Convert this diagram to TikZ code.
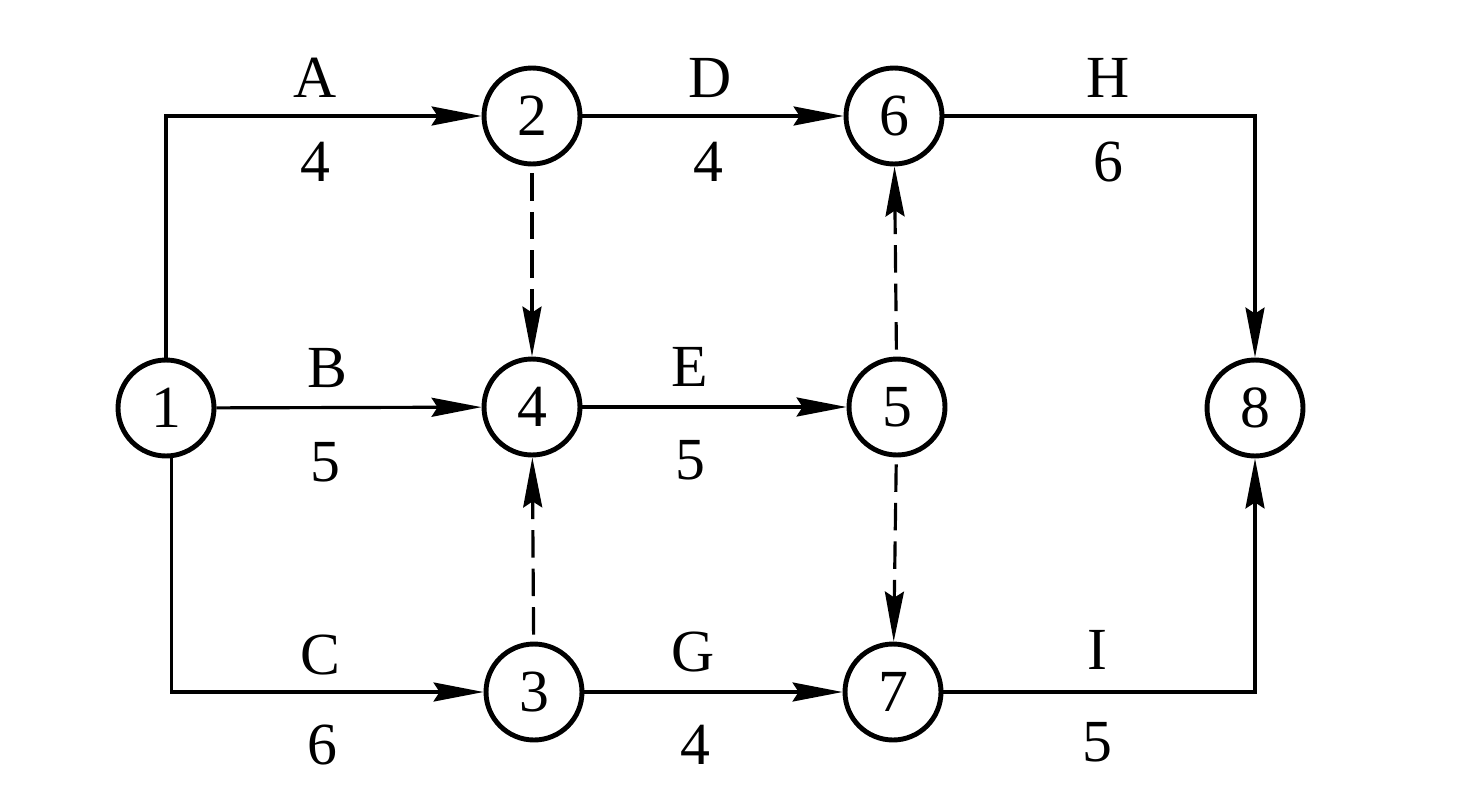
\documentclass[tikz,border=0pt]{standalone}
\usepackage{fontspec}
\setmainfont{Liberation Serif}
\usetikzlibrary{arrows.meta}
\begin{document}
\begin{tikzpicture}[x=0.02cm,y=-0.02cm,
  ev/.style={circle,draw,line width=2.8pt,minimum size=1.92cm,inner sep=0pt,font=\fontsize{34}{34}\selectfont},
  lab/.style={inner sep=0pt,font=\fontsize{34}{34}\selectfont},
  act/.style={line width=1.8pt,-{Stealth[length=1cm,width=0.38cm,inset=0.12cm]}},
  dummy/.style={act,dash pattern=on 0.55cm off 0.22cm,shorten <=4pt}]
\useasboundingbox (0,0) rectangle (1473,801);
\node[ev] (n1) at (166,408) {1};
\node[ev] (n2) at (532,116) {2};
\node[ev] (n6) at (894,116) {6};
\node[ev] (n4) at (532,407) {4};
\node[ev] (n5) at (897,407) {5};
\node[ev] (n8) at (1255,408) {8};
\node[ev] (n3) at (534,692) {3};
\node[ev] (n7) at (893,692) {7};
\draw[act] (n1.north) |- (n2);
\draw[act] (n1) -- (n4);
\draw[act] ([xshift=3pt]n1.south) |- (n3);
\draw[act] (n2) -- (n6);
\draw[act] (n4) -- (n5);
\draw[act] (n3) -- (n7);
\draw[act] (n6) -| (n8);
\draw[act] (n7) -| (n8);
\draw[dummy] (n2) -- (n4);
\draw[dummy] (n3) -- (n4);
\draw[dummy] (n5) -- (n6);
\draw[dummy] (n5) -- (n7);
\node[lab] (la) at (315,78) {A};
\node[lab] (ta) at (315,162) {4};
\node[lab] (lb) at (327,368) {B};
\node[lab] (tb) at (325,462) {5};
\node[lab] (lc) at (320,655) {C};
\node[lab] (tc) at (322,745) {6};
\node[lab] (ld) at (710,78) {D};
\node[lab] (td) at (708,162) {4};
\node[lab] (le) at (690,367) {E};
\node[lab] (te) at (690,460) {5};
\node[lab] (lg) at (693,652) {G};
\node[lab] (tg) at (695,745) {4};
\node[lab] (lh) at (1108,78) {H};
\node[lab] (th) at (1108,162) {6};
\node[lab] (li) at (1097,650) {I};
\node[lab] (ti) at (1097,742) {5};
\end{tikzpicture}
\end{document}
